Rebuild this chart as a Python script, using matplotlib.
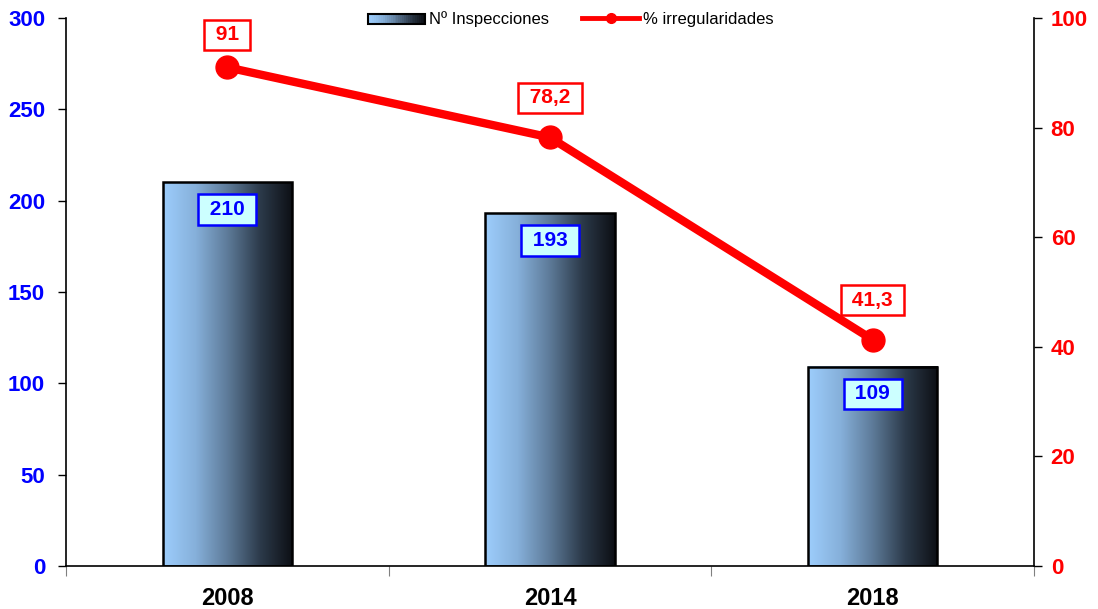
import numpy as np
import matplotlib.pyplot as plt
from matplotlib.colors import LinearSegmentedColormap
from matplotlib.legend_handler import HandlerBase
from matplotlib.patches import Rectangle
from matplotlib.lines import Line2D

plt.rcParams["font.family"] = ["Liberation Sans", "DejaVu Sans"]

years = ["2008", "2014", "2018"]
inspecciones = [210, 193, 109]
irregularidades = [91, 78.2, 41.3]
irreg_labels = ["91", "78,2", "41,3"]

grad = LinearSegmentedColormap.from_list(
    "bar", ["#9dcdfc", "#86b0da", "#5d7a98", "#2c3a4a", "#0c0f14"]
)
gradient = np.linspace(0, 1, 256).reshape(1, -1)


class GradientHandler(HandlerBase):
    def create_artists(self, legend, orig, xd, yd, width, height, fontsize, trans):
        arts = []
        n = 30
        for i in range(n):
            r = Rectangle((xd + width * i / n, yd), width / n + 0.3, height,
                          facecolor=grad(i / (n - 1)), edgecolor="none", transform=trans)
            arts.append(r)
        arts.append(Rectangle((xd, yd), width, height, facecolor="none",
                              edgecolor="black", lw=1.5, transform=trans))
        return arts


fig = plt.figure(figsize=(10.98, 6.09), dpi=100)
ax = fig.add_axes([0.0601, 0.0706, 0.8816, 0.8998])
ax2 = ax.twinx()

x = np.arange(len(years))
bw = 0.4
for xi, v in zip(x, inspecciones):
    ax.imshow(gradient, extent=[xi - bw / 2, xi + bw / 2, 0, v], cmap=grad,
              aspect="auto", zorder=2)
    ax.add_patch(Rectangle((xi - bw / 2, 0), bw, v, facecolor="none",
                           edgecolor="black", lw=1.8, zorder=3))
    ax.annotate(f" {v} ", (xi, v), xytext=(0, -19.5), textcoords="offset points",
                ha="center", va="center", fontsize=15, fontweight="bold",
                color="blue", zorder=5,
                bbox=dict(boxstyle="square,pad=0.27", facecolor="#ccffff",
                          edgecolor="blue", lw=1.8))
ax.set_xlim(-0.5, 2.5)
ax.set_ylim(0, 300)

ax2.plot(x, irregularidades, color="red", lw=6, marker="o", markersize=16.5,
         zorder=4, clip_on=False)
label_offsets = [23.5, 28.5, 28.5]
for xi, v, lab, off in zip(x, irregularidades, irreg_labels, label_offsets):
    ax2.annotate(f" {lab} ", (xi, v), xytext=(0, off), textcoords="offset points",
                 ha="center", va="center", fontsize=15, fontweight="bold",
                 color="red", zorder=5,
                 bbox=dict(boxstyle="square,pad=0.27", facecolor="white",
                           edgecolor="red", lw=1.8))
ax2.set_ylim(0, 100)
ax2.set_xlim(-0.5, 2.5)

ax.set_yticks(np.arange(0, 301, 50))
ax.tick_params(axis="y", colors="black", labelcolor="blue", labelsize=16,
               direction="out", length=6, width=1, pad=9)
for t in ax.get_yticklabels():
    t.set_fontweight("bold")
ax2.set_yticks(np.arange(0, 101, 20))
ax2.tick_params(axis="y", colors="black", labelcolor="red", labelsize=16,
                direction="out", length=6, width=1, pad=6)
for t in ax2.get_yticklabels():
    t.set_fontweight("bold")

ax.set_xticks([-0.5, 0.5, 1.5, 2.5])
ax.set_xticklabels([])
ax.tick_params(axis="x", direction="out", length=7, color="gray")
ax.set_xticks(x, minor=True)
ax.set_xticklabels(years, minor=True, fontsize=17, fontweight="bold")
ax.tick_params(axis="x", which="minor", length=0, pad=15)

for a in (ax, ax2):
    a.spines["top"].set_visible(False)
ax.spines["right"].set_visible(False)
ax2.spines["left"].set_visible(False)
ax2.spines["bottom"].set_visible(False)
ax2.spines["right"].set_linewidth(1.2)
ax.spines["left"].set_linewidth(1.2)
ax.spines["bottom"].set_linewidth(1.2)

bar_handle = Rectangle((0, 0), 1, 1)
line_handle = Line2D([], [], color="red", lw=3.5, marker="o", markersize=7)
fig.legend([bar_handle, line_handle], ["Nº Inspecciones", "% irregularidades"],
           handler_map={Rectangle: GradientHandler()},
           loc="center", bbox_to_anchor=(0.520, 0.969), ncol=2, frameon=False,
           fontsize=12, handlelength=3.4, handleheight=0.6, columnspacing=2.0,
           handletextpad=0.25)

fig.savefig("out.png", dpi=100)
